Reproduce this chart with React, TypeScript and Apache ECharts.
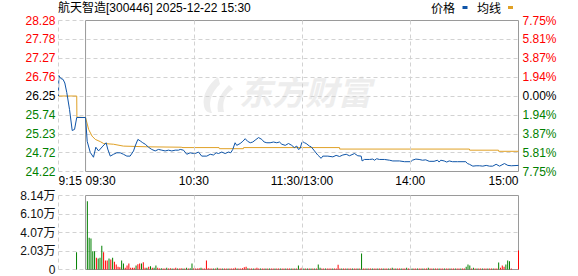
import React, { useEffect, useRef } from 'react';
import * as echarts from 'echarts';

// ---------- data ----------
const stockName = '航天智造';
const stockCode = '300446';
const tradeTime = '2025-12-22 15:30';
const preClose = 26.25;
const limitPct = 0.0775;

// tick labels (bottom -> top)
const priceTicks = ['24.22', '24.72', '25.23', '25.74', '26.25', '26.76', '27.27', '27.78', '28.28'];
const pctTicks = ['7.75%', '5.81%', '3.87%', '1.94%', '0.00%', '1.94%', '3.87%', '5.81%', '7.75%'];
const volTicks = ['0', '2.03万', '4.07万', '6.10万', '8.14万'];
const volMax = 81400;

// time axis: minutes from 9:15 (0) ... 9:30 (15) ... 11:30/13:00 (135) ... 15:00 (255)
const timeTickPos = [0, 15, 75, 135, 195, 255];
const timeTickText = ['9:15', '09:30', '10:30', '11:30/13:00', '14:00', '15:00'];
const gridLineMinutes = [0, 75, 135, 195];

// price line [minute, price]
const pricePoints = [
  [0, 26.25], [0.2, 26.8], [1.3, 26.72], [2.5, 26.7], [3.5, 26.6], [4.6, 26.34], [6.1, 25.89],
  [7.6, 25.32], [8.9, 25.35], [10.1, 25.67], [15, 25.67],
  [15.9, 25.03], [17.6, 24.73], [19.4, 24.6], [20.7, 24.87], [22.2, 24.77], [24.6, 24.9],
  [26.4, 24.99], [27.3, 24.82], [28.7, 24.63], [30.5, 24.68], [32.3, 24.72], [34.2, 24.72],
  [36.0, 24.68], [37.9, 24.63], [39.7, 24.63], [41.6, 24.77], [42.5, 24.9], [44.0, 25.08],
  [45.3, 25.04], [46.7, 24.99], [48.1, 24.95], [49.9, 24.87], [51.7, 24.81], [53.6, 24.77],
  [55.4, 24.81], [57.3, 24.79], [59.1, 24.77], [61.0, 24.79], [62.8, 24.77], [64.7, 24.79],
  [66.5, 24.79], [67.5, 24.81], [69.3, 24.79], [71.1, 24.68], [73.0, 24.72], [74.8, 24.7],
  [75.8, 24.7], [77.6, 24.74], [79.4, 24.63], [82.2, 24.63], [84.1, 24.68], [85.9, 24.66],
  [87.4, 24.72], [88.7, 24.7], [90.5, 24.74], [92.4, 24.7], [94.2, 24.74], [95.5, 24.72],
  [96.6, 24.81], [97.9, 24.99], [98.8, 24.92], [100.7, 24.97], [102.2, 25.03], [103.5, 25.1],
  [104.8, 25.03], [106.3, 24.99], [107.7, 25.01], [109.0, 25.06], [110.9, 25.13], [112.7, 25.08],
  [114.0, 25.01], [115.5, 24.99], [117.3, 24.99], [119.2, 25.01], [121.0, 24.99], [122.5, 25.01],
  [123.8, 24.95], [125.7, 24.92], [127.5, 24.97], [129.3, 24.92], [130.7, 24.86], [132.1, 24.9],
  [133.0, 24.81], [134.0, 24.84], [134.9, 25.0], [135.4, 25.02], [136.4, 24.99], [137.3, 24.97],
  [139.1, 24.9], [140.1, 24.88], [141.9, 24.77], [143.7, 24.66], [145.6, 24.57], [146.5, 24.63],
  [149.3, 24.63], [152.1, 24.61], [153.9, 24.65], [155.8, 24.62], [157.6, 24.66], [159.5, 24.68],
  [161.3, 24.64], [164.1, 24.7], [165.9, 24.64], [167.8, 24.63], [168.3, 24.5], [169.6, 24.54],
  [172.4, 24.54], [174.2, 24.55], [175.2, 24.52], [176.4, 24.56], [177.9, 24.54], [180.7, 24.54],
  [183.5, 24.52], [185.3, 24.5], [189.0, 24.5], [191.8, 24.48], [195.3, 24.48], [196.2, 24.52],
  [198.1, 24.55], [199.9, 24.54], [201.8, 24.52], [203.6, 24.53], [205.5, 24.49], [208.2, 24.49],
  [210.1, 24.52], [211.0, 24.47], [211.9, 24.52], [213.8, 24.5], [215.2, 24.47], [216.6, 24.5],
  [218.4, 24.48], [221.2, 24.48], [225.8, 24.48], [226.7, 24.43], [227.8, 24.41], [229.7, 24.36],
  [231.5, 24.37], [233.4, 24.37], [235.2, 24.36], [237.1, 24.38], [238.9, 24.36], [240.7, 24.36],
  [242.6, 24.41], [244.5, 24.36], [247.2, 24.43], [249.1, 24.38], [251.0, 24.37], [255, 24.38],
];

// average price line [minute, price]
const avgPoints = [
  [0, 26.25], [10.1, 26.25], [10.2, 25.68], [15, 25.67], [16.7, 25.35], [18.6, 25.17],
  [20.4, 25.08], [23.2, 25.02], [25, 24.97], [30.5, 24.95], [36, 24.9], [50, 24.88], [68, 24.87],
  [69, 24.86], [89, 24.86], [89.2, 24.83], [102.5, 24.83], [102.6, 24.86], [155.8, 24.86],
  [155.9, 24.82], [227.8, 24.82], [227.9, 24.79], [243.9, 24.79], [244, 24.76], [255, 24.76],
];

// volume: positive = up minute (red), negative = down minute (green)
const auctionVolume = [[10, -19000]];
const minuteVolumeStart = 16;
const minuteVolumes = [
  -75000, -35000, -34000, -20000, -20000, 13000, -12000, -13000, -26000, 19000, 10000, 10000, -12000, 11000, -13000, 8500, 5500, 3000, 2600, -9900,
  -6600, 1800, 4400, 6600, 1800, 1800, 1800, -4400, 5900, 6600, -6600, 8000, 1800, -1800, 2900, -3500, 1800, -1800, -4400, 1800,
  1200, -1500, 1100, 1200, -1800, 1100, 1300, -1200, 1100, 2000, -1100, 1200, 1300, -1100, 1200, -1800, 1100, -1500, -6600, 1300,
  1100, 1200, 1300, -1800, 1100, 1200, 9900, 1500, 1200, 1100, -1100, 1200, -1800, 1100, 1200, -1100, 1100, 1200, -1100, 1100,
  1200, 1100, 1800, -1100, 1200, 1100, 1300, 2500, 2900, -1500, 1100, 1200, -1100, 1100, 1800, 1100, -1100, 1200, 1100, -1100,
  1100, -1200, 1100, 1100, -1100, 1200, 1100, -1100, 1100, 1200, -1100, 1100, 1100, -1200, 1100, -1100, 1100, -4400, 1100, 1800,
  -1100, 1100, -1200, 1100, -1100, 1100, -1100, 1200, -5500, -1800, 1100, 1100, -1100, 1200, 1100, 1100, -1100, 1100, 1200, 5100,
  1100, -1100, 1100, 1200, -1100, 1100, 1100, -1200, 1100, 1100, -1100, 1100, -17600, 1200, 1100, -1100, 1100, 1200, -1100, 1100,
  1100, -1100, 1200, 1100, -1100, 1100, 1100, -1100, 1100, -1800, 1100, -1100, 1100, 1200, -1100, 1100, 1100, -1800, 1100, 1100,
  -1100, 1100, 1200, -1100, 1100, 1100, -1100, 1100, 1200, -1800, 1100, 1100, -1100, 1100, 1200, -1100, 1100, 1100, -1100, 1100,
  1100, -1100, 1200, 1100, -1100, 1100, 1100, -1100, 1100, 1100, -2900, -5500, -4400, 1100, -1800, 1100, -1100, 1100, 1200, -1100,
  1100, 1100, -1100, 1100, 1200, -1100, 1100, 1100, -7700, 2000, 4400, 3000, -5500, -9900, -9200, 1100, 0, 0, 0, 20900,
];

// ---------- styles ----------
const FONT = "'Liberation Sans', 'Noto Sans CJK SC', sans-serif";
const RED = '#ff0000';
const GREEN = '#008000';
const PRICE_COLOR = '#0f55a8';
const AVG_COLOR = '#e0a126';
const GRID_LINE = { color: '#d2d2d2', type: [4, 3] as number[], width: 1 };
const FRAME = { color: 'rgba(0,0,0,0)', borderColor: '#9a9a9a', borderWidth: 1 };

echarts.graphic.registerShape(
  'dfcfLogo',
  echarts.graphic.extendPath(
    'M20 0 C10 8 4 18 6 29 C7 34 10 36 14 36 C10 27 12 17 22 7 Z M31 8 C23 16 18 24 20 35 L26 35 C24 26 26 18 35 12 Z',
    {}
  )
);

export default function App() {
  const ref = useRef<HTMLDivElement>(null);

  useEffect(() => {
    if (!ref.current) return;
    const chart = echarts.init(ref.current, undefined, { renderer: 'svg' });

    const priceMin = preClose * (1 - limitPct);
    const priceMax = preClose * (1 + limitPct);
    const volStep = volMax / (volTicks.length - 1);

    const volData = [
      ...auctionVolume,
      ...minuteVolumes.map((v, i) => [minuteVolumeStart + i, v]),
    ].map(([m, v]) => ({
      value: [m, Math.abs(v)],
      itemStyle: { color: v >= 0 ? RED : GREEN },
    }));

    const vLines = {
      silent: true,
      symbol: ['none', 'none'],
      label: { show: false },
      lineStyle: GRID_LINE,
      emphasis: { disabled: true },
      data: gridLineMinutes.map((m) => ({ xAxis: m })),
    };

    const labelColor = (v: any) => {
      const n = Number(v);
      return n > 4 ? RED : n < 4 ? GREEN : '#000';
    };

    chart.setOption({
      animation: false,
      backgroundColor: '#fff',
      textStyle: { fontFamily: FONT },
      title: {
        text: `${stockName}[${stockCode}] ${tradeTime}`,
        left: 58,
        top: 2,
        padding: 0,
        textStyle: { fontSize: 12, fontWeight: 'normal', color: '#000', fontFamily: FONT },
      },
      graphic: [
        {
          type: 'dfcfLogo',
          x: 198,
          y: 77,
          silent: true,
          z: 0,
          style: { fill: '#ededed' },
        },
        {
          type: 'text',
          x: 239,
          y: 77,
          silent: true,
          z: 0,
          style: {
            text: '东方财富',
            fill: '#ededed',
            font: `italic bold 33px ${FONT}`,
          },
        },
        { type: 'text', x: 431, y: 3, style: { text: '价格', fill: '#000', font: `12px ${FONT}` } },
        { type: 'rect', shape: { x: 462.5, y: 6, width: 5, height: 3 }, style: { fill: PRICE_COLOR } },
        { type: 'text', x: 477, y: 3, style: { text: '均线', fill: '#000', font: `12px ${FONT}` } },
        { type: 'rect', shape: { x: 508, y: 6, width: 5, height: 3 }, style: { fill: AVG_COLOR } },
      ],
      grid: [
        { left: 58.5, right: 59.5, top: 20.5, height: 151 },
        { left: 58.5, right: 59.5, top: 195.5, height: 74 },
      ],
      xAxis: [
        {
          type: 'value',
          gridIndex: 0,
          min: 0,
          max: 255,
          interval: 15,
          axisLine: { show: false },
          axisTick: { show: false },
          splitLine: { show: false },
          axisLabel: {
            margin: 3,
            fontSize: 12,
            color: '#000',
            fontFamily: FONT,
            alignMinLabel: 'left',
            alignMaxLabel: 'right',
            formatter: (v: number) => {
              const i = timeTickPos.indexOf(Number(v));
              if (i < 0) return '';
              return i === 1 ? `{lead|${timeTickText[i]}}` : timeTickText[i];
            },
            rich: {
              lead: { padding: [0, 0, 0, 30], fontSize: 12, color: '#000', fontFamily: FONT },
            },
          },
        },
        {
          type: 'value',
          gridIndex: 1,
          min: 0,
          max: 255,
          interval: 15,
          axisLine: { show: false },
          axisTick: { show: false },
          splitLine: { show: false },
          axisLabel: { show: false },
        },
      ],
      yAxis: [
        { type: 'value', gridIndex: 0, min: priceMin, max: priceMax, show: false },
        {
          type: 'value',
          gridIndex: 0,
          position: 'left',
          min: 0,
          max: priceTicks.length - 1,
          interval: 1,
          axisLine: { show: false },
          axisTick: { show: false },
          splitLine: { show: true, lineStyle: GRID_LINE },
          axisLabel: {
            margin: 3,
            fontSize: 12,
            fontFamily: FONT,
            formatter: (v: number) => priceTicks[Math.round(v)],
            color: labelColor,
          },
        },
        {
          type: 'value',
          gridIndex: 0,
          position: 'right',
          min: 0,
          max: pctTicks.length - 1,
          interval: 1,
          axisLine: { show: false },
          axisTick: { show: false },
          splitLine: { show: false },
          axisLabel: {
            margin: 4,
            fontSize: 12,
            fontFamily: FONT,
            formatter: (v: number) => pctTicks[Math.round(v)],
            color: labelColor,
          },
        },
        {
          type: 'value',
          gridIndex: 1,
          position: 'left',
          min: 0,
          max: volMax,
          interval: volStep,
          axisLine: { show: false },
          axisTick: { show: false },
          splitLine: { show: true, lineStyle: GRID_LINE },
          axisLabel: {
            margin: 3,
            fontSize: 12,
            fontFamily: FONT,
            color: '#111',
            formatter: (v: number) => volTicks[Math.round(v / volStep)],
          },
        },
      ],
      series: [
        {
          name: '均线',
          type: 'line',
          xAxisIndex: 0,
          yAxisIndex: 0,
          data: avgPoints,
          symbol: 'none',
          lineStyle: { color: AVG_COLOR, width: 1 },
          itemStyle: { color: AVG_COLOR },
          markLine: vLines,
          markArea: {
            silent: true,
            itemStyle: FRAME,
            data: [[{ xAxis: 15, yAxis: priceMin }, { xAxis: 255, yAxis: priceMax }]],
          },
          z: 3,
        },
        {
          name: '价格',
          type: 'line',
          xAxisIndex: 0,
          yAxisIndex: 0,
          data: pricePoints,
          symbol: 'none',
          lineStyle: { color: PRICE_COLOR, width: 1 },
          itemStyle: { color: PRICE_COLOR },
          z: 4,
        },
        {
          name: '成交量',
          type: 'bar',
          xAxisIndex: 1,
          yAxisIndex: 3,
          data: volData,
          barWidth: 1,
          markLine: vLines,
          markArea: {
            silent: true,
            itemStyle: FRAME,
            data: [[{ xAxis: 15, yAxis: 0 }, { xAxis: 255, yAxis: volMax }]],
          },
        },
      ],
    });

    return () => chart.dispose();
  }, []);

  return (
    <div
      ref={ref}
      style={{ position: 'fixed', left: 0, top: 0, width: 578, height: 276, background: '#fff' }}
    />
  );
}
